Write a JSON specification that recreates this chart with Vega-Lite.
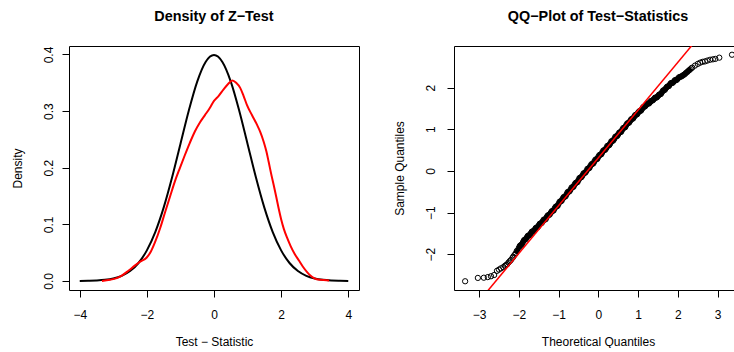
{
  "$schema": "https://vega.github.io/schema/vega-lite/v6.json",
  "padding": {"left": 10, "top": 8, "right": 0, "bottom": 0},
  "background": "white",
  "datasets": {
    "normal": [
      {"x": -4, "density": 0.0001}, {"x": -3.75, "density": 0.0004}, {"x": -3.5, "density": 0.0009}, {"x": -3.25, "density": 0.0020},
      {"x": -3, "density": 0.0044}, {"x": -2.75, "density": 0.0091}, {"x": -2.5, "density": 0.0175}, {"x": -2.25, "density": 0.0317},
      {"x": -2, "density": 0.0540}, {"x": -1.75, "density": 0.0863}, {"x": -1.5, "density": 0.1295}, {"x": -1.25, "density": 0.1826},
      {"x": -1, "density": 0.2420}, {"x": -0.75, "density": 0.3011}, {"x": -0.5, "density": 0.3521}, {"x": -0.25, "density": 0.3867},
      {"x": 0, "density": 0.3989}, {"x": 0.25, "density": 0.3867}, {"x": 0.5, "density": 0.3521}, {"x": 0.75, "density": 0.3011},
      {"x": 1, "density": 0.2420}, {"x": 1.25, "density": 0.1826}, {"x": 1.5, "density": 0.1295}, {"x": 1.75, "density": 0.0863},
      {"x": 2, "density": 0.0540}, {"x": 2.25, "density": 0.0317}, {"x": 2.5, "density": 0.0175}, {"x": 2.75, "density": 0.0091},
      {"x": 3, "density": 0.0044}, {"x": 3.25, "density": 0.0020}, {"x": 3.5, "density": 0.0009}, {"x": 3.75, "density": 0.0004},
      {"x": 4, "density": 0.0001}
    ],
    "empirical": [
      {"x": -3.34, "density": 0.000}, {"x": -3.1, "density": 0.002}, {"x": -2.9, "density": 0.005}, {"x": -2.76, "density": 0.009},
      {"x": -2.55, "density": 0.018}, {"x": -2.36, "density": 0.027}, {"x": -2.2, "density": 0.034}, {"x": -2.01, "density": 0.041},
      {"x": -1.88, "density": 0.052}, {"x": -1.76, "density": 0.068}, {"x": -1.6, "density": 0.094}, {"x": -1.46, "density": 0.121},
      {"x": -1.3, "density": 0.151}, {"x": -1.17, "density": 0.175}, {"x": -1.02, "density": 0.199}, {"x": -0.87, "density": 0.222},
      {"x": -0.72, "density": 0.244}, {"x": -0.57, "density": 0.264}, {"x": -0.42, "density": 0.280}, {"x": -0.27, "density": 0.293},
      {"x": -0.13, "density": 0.305}, {"x": 0.0, "density": 0.318}, {"x": 0.14, "density": 0.327}, {"x": 0.28, "density": 0.338},
      {"x": 0.42, "density": 0.348}, {"x": 0.55, "density": 0.354}, {"x": 0.66, "density": 0.350}, {"x": 0.78, "density": 0.341},
      {"x": 0.88, "density": 0.327}, {"x": 0.98, "density": 0.311}, {"x": 1.13, "density": 0.293}, {"x": 1.28, "density": 0.276},
      {"x": 1.38, "density": 0.263}, {"x": 1.48, "density": 0.246}, {"x": 1.56, "density": 0.229}, {"x": 1.63, "density": 0.210},
      {"x": 1.70, "density": 0.190}, {"x": 1.78, "density": 0.169}, {"x": 1.86, "density": 0.147}, {"x": 1.93, "density": 0.127},
      {"x": 2.0, "density": 0.109}, {"x": 2.08, "density": 0.092}, {"x": 2.18, "density": 0.076}, {"x": 2.28, "density": 0.062},
      {"x": 2.4, "density": 0.048}, {"x": 2.53, "density": 0.036}, {"x": 2.65, "density": 0.025}, {"x": 2.78, "density": 0.015},
      {"x": 2.88, "density": 0.009}, {"x": 2.98, "density": 0.005}, {"x": 3.15, "density": 0.002}, {"x": 3.43, "density": 0.001}
    ],
    "qq": [
      {"theoretical": -3.35, "sample": -2.65}, {"theoretical": -3.03, "sample": -2.57}, {"theoretical": -2.88, "sample": -2.565},
      {"theoretical": -2.78, "sample": -2.55}, {"theoretical": -2.70, "sample": -2.53}, {"theoretical": -2.62, "sample": -2.50},
      {"theoretical": -2.55, "sample": -2.40}, {"theoretical": -2.50, "sample": -2.37}, {"theoretical": -2.45, "sample": -2.34},
      {"theoretical": -2.39, "sample": -2.31}, {"theoretical": -2.32, "sample": -2.26}, {"theoretical": -2.26, "sample": -2.20},
      {"theoretical": -2.20, "sample": -2.14}, {"theoretical": -2.16, "sample": -2.09}, {"theoretical": -2.11, "sample": -2.02},
      {"theoretical": -2.05, "sample": -1.92},
      {"theoretical": -2.00, "sample": -1.85}, {"theoretical": -1.95, "sample": -1.78}, {"theoretical": -1.90, "sample": -1.72},
      {"theoretical": -1.85, "sample": -1.65}, {"theoretical": -1.80, "sample": -1.60}, {"theoretical": -1.75, "sample": -1.55},
      {"theoretical": -1.70, "sample": -1.50}, {"theoretical": -1.65, "sample": -1.45}, {"theoretical": -1.60, "sample": -1.41},
      {"theoretical": -1.55, "sample": -1.36}, {"theoretical": -1.50, "sample": -1.31}, {"theoretical": -1.45, "sample": -1.26},
      {"theoretical": -1.40, "sample": -1.21}, {"theoretical": -1.35, "sample": -1.17}, {"theoretical": -1.30, "sample": -1.11},
      {"theoretical": -1.25, "sample": -1.06}, {"theoretical": -1.20, "sample": -1.01}, {"theoretical": -1.15, "sample": -0.96},
      {"theoretical": -1.10, "sample": -0.90}, {"theoretical": -1.05, "sample": -0.85}, {"theoretical": -1.00, "sample": -0.79},
      {"theoretical": -0.95, "sample": -0.73}, {"theoretical": -0.90, "sample": -0.67}, {"theoretical": -0.85, "sample": -0.62},
      {"theoretical": -0.80, "sample": -0.56}, {"theoretical": -0.75, "sample": -0.50}, {"theoretical": -0.70, "sample": -0.45},
      {"theoretical": -0.65, "sample": -0.39}, {"theoretical": -0.60, "sample": -0.33}, {"theoretical": -0.55, "sample": -0.28},
      {"theoretical": -0.50, "sample": -0.22}, {"theoretical": -0.45, "sample": -0.16}, {"theoretical": -0.40, "sample": -0.11},
      {"theoretical": -0.35, "sample": -0.05}, {"theoretical": -0.30, "sample": 0.00}, {"theoretical": -0.25, "sample": 0.06},
      {"theoretical": -0.20, "sample": 0.12}, {"theoretical": -0.15, "sample": 0.17}, {"theoretical": -0.10, "sample": 0.23},
      {"theoretical": -0.05, "sample": 0.28}, {"theoretical": 0.00, "sample": 0.34}, {"theoretical": 0.05, "sample": 0.39},
      {"theoretical": 0.10, "sample": 0.45}, {"theoretical": 0.15, "sample": 0.50}, {"theoretical": 0.20, "sample": 0.55},
      {"theoretical": 0.25, "sample": 0.61}, {"theoretical": 0.30, "sample": 0.66}, {"theoretical": 0.35, "sample": 0.72},
      {"theoretical": 0.40, "sample": 0.77}, {"theoretical": 0.45, "sample": 0.83}, {"theoretical": 0.50, "sample": 0.88},
      {"theoretical": 0.55, "sample": 0.93}, {"theoretical": 0.60, "sample": 0.99}, {"theoretical": 0.65, "sample": 1.04},
      {"theoretical": 0.70, "sample": 1.10}, {"theoretical": 0.75, "sample": 1.15}, {"theoretical": 0.80, "sample": 1.20},
      {"theoretical": 0.85, "sample": 1.25}, {"theoretical": 0.90, "sample": 1.30}, {"theoretical": 0.95, "sample": 1.35},
      {"theoretical": 1.00, "sample": 1.40}, {"theoretical": 1.05, "sample": 1.44}, {"theoretical": 1.10, "sample": 1.49},
      {"theoretical": 1.15, "sample": 1.54}, {"theoretical": 1.20, "sample": 1.58}, {"theoretical": 1.25, "sample": 1.62},
      {"theoretical": 1.30, "sample": 1.65}, {"theoretical": 1.35, "sample": 1.69}, {"theoretical": 1.40, "sample": 1.73},
      {"theoretical": 1.45, "sample": 1.76}, {"theoretical": 1.50, "sample": 1.80}, {"theoretical": 1.55, "sample": 1.84},
      {"theoretical": 1.60, "sample": 1.89}, {"theoretical": 1.65, "sample": 1.94}, {"theoretical": 1.70, "sample": 1.99},
      {"theoretical": 1.75, "sample": 2.03}, {"theoretical": 1.80, "sample": 2.08}, {"theoretical": 1.85, "sample": 2.11},
      {"theoretical": 1.90, "sample": 2.15}, {"theoretical": 1.95, "sample": 2.18}, {"theoretical": 2.00, "sample": 2.22},
      {"theoretical": 2.06, "sample": 2.26}, {"theoretical": 2.12, "sample": 2.29}, {"theoretical": 2.18, "sample": 2.33},
      {"theoretical": 2.24, "sample": 2.38}, {"theoretical": 2.30, "sample": 2.43}, {"theoretical": 2.36, "sample": 2.48},
      {"theoretical": 2.43, "sample": 2.53}, {"theoretical": 2.50, "sample": 2.57}, {"theoretical": 2.56, "sample": 2.60},
      {"theoretical": 2.62, "sample": 2.62}, {"theoretical": 2.68, "sample": 2.63}, {"theoretical": 2.74, "sample": 2.65},
      {"theoretical": 2.81, "sample": 2.67}, {"theoretical": 2.88, "sample": 2.68}, {"theoretical": 2.94, "sample": 2.69},
      {"theoretical": 3.04, "sample": 2.72}, {"theoretical": 3.36, "sample": 2.79},
      {"theoretical": -1.975, "sample": -1.80}, {"theoretical": -1.925, "sample": -1.77}, {"theoretical": -1.875, "sample": -1.67},
      {"theoretical": -1.825, "sample": -1.64}, {"theoretical": -1.775, "sample": -1.56}, {"theoretical": -1.725, "sample": -1.54},
      {"theoretical": -1.675, "sample": -1.46}, {"theoretical": -1.625, "sample": -1.45}, {"theoretical": -1.575, "sample": -1.37},
      {"theoretical": -1.525, "sample": -1.35}, {"theoretical": -1.475, "sample": -1.27}, {"theoretical": -1.425, "sample": -1.25},
      {"theoretical": -1.375, "sample": -1.17}, {"theoretical": -1.325, "sample": -1.16}, {"theoretical": -1.275, "sample": -1.07},
      {"theoretical": -1.225, "sample": -1.05}, {"theoretical": -1.175, "sample": -0.97}, {"theoretical": -1.125, "sample": -0.95},
      {"theoretical": -1.075, "sample": -0.86}, {"theoretical": -1.025, "sample": -0.84}, {"theoretical": -0.975, "sample": -0.74},
      {"theoretical": -0.925, "sample": -0.72}, {"theoretical": -0.875, "sample": -0.63}, {"theoretical": -0.825, "sample": -0.61},
      {"theoretical": -0.775, "sample": -0.51}, {"theoretical": -0.725, "sample": -0.49}, {"theoretical": -0.675, "sample": -0.40},
      {"theoretical": -0.625, "sample": -0.38}, {"theoretical": -0.575, "sample": -0.29}, {"theoretical": -0.525, "sample": -0.27},
      {"theoretical": -0.475, "sample": -0.17}, {"theoretical": -0.425, "sample": -0.15}, {"theoretical": -0.375, "sample": -0.06},
      {"theoretical": -0.325, "sample": -0.04}, {"theoretical": -0.275, "sample": 0.05}, {"theoretical": -0.225, "sample": 0.07},
      {"theoretical": -0.175, "sample": 0.16}, {"theoretical": -0.125, "sample": 0.18}, {"theoretical": -0.075, "sample": 0.27},
      {"theoretical": -0.025, "sample": 0.29}, {"theoretical": 0.025, "sample": 0.38}, {"theoretical": 0.075, "sample": 0.40},
      {"theoretical": 0.125, "sample": 0.49}, {"theoretical": 0.175, "sample": 0.51}, {"theoretical": 0.225, "sample": 0.60},
      {"theoretical": 0.275, "sample": 0.62}, {"theoretical": 0.325, "sample": 0.71}, {"theoretical": 0.375, "sample": 0.73},
      {"theoretical": 0.425, "sample": 0.82}, {"theoretical": 0.475, "sample": 0.84}, {"theoretical": 0.525, "sample": 0.92},
      {"theoretical": 0.575, "sample": 0.94}, {"theoretical": 0.625, "sample": 1.03}, {"theoretical": 0.675, "sample": 1.05},
      {"theoretical": 0.725, "sample": 1.14}, {"theoretical": 0.775, "sample": 1.16}, {"theoretical": 0.825, "sample": 1.24},
      {"theoretical": 0.875, "sample": 1.26}, {"theoretical": 0.925, "sample": 1.34}, {"theoretical": 0.975, "sample": 1.36},
      {"theoretical": 1.025, "sample": 1.43}, {"theoretical": 1.075, "sample": 1.45}, {"theoretical": 1.125, "sample": 1.53},
      {"theoretical": 1.175, "sample": 1.55}, {"theoretical": 1.225, "sample": 1.61}, {"theoretical": 1.275, "sample": 1.62},
      {"theoretical": 1.325, "sample": 1.68}, {"theoretical": 1.375, "sample": 1.70}, {"theoretical": 1.425, "sample": 1.76},
      {"theoretical": 1.475, "sample": 1.77}, {"theoretical": 1.525, "sample": 1.83}, {"theoretical": 1.575, "sample": 1.85},
      {"theoretical": 1.625, "sample": 1.93}, {"theoretical": 1.675, "sample": 1.95}, {"theoretical": 1.725, "sample": 2.02},
      {"theoretical": 1.775, "sample": 2.04}, {"theoretical": 1.825, "sample": 2.11}, {"theoretical": 1.875, "sample": 2.12},
      {"theoretical": 1.925, "sample": 2.18}, {"theoretical": 1.975, "sample": 2.19},
      {"theoretical": 2.03, "sample": 2.25}, {"theoretical": 2.09, "sample": 2.27}, {"theoretical": 2.15, "sample": 2.31},
      {"theoretical": 2.21, "sample": 2.36}, {"theoretical": 2.27, "sample": 2.41}, {"theoretical": 2.33, "sample": 2.46},
      {"theoretical": -2.08, "sample": -1.98}, {"theoretical": -2.14, "sample": -2.06}, {"theoretical": -2.23, "sample": -2.17},
      {"theoretical": -2.29, "sample": -2.24}, {"theoretical": -2.35, "sample": -2.28}
    ],
    "qqline": [
      {"theoretical": -3.63, "sample": -3.853},
      {"theoretical": 3.41, "sample": 4.229}
    ]
  },
  "hconcat": [
    {
      "width": 290,
      "height": 244,
      "title": "Density of Z−Test",
      "layer": [
        {
          "data": {"name": "normal"},
          "mark": {"type": "line", "color": "black", "strokeWidth": 2, "interpolate": "monotone"},
          "encoding": {
            "x": {"field": "x", "type": "quantitative", "scale": {"domain": [-4.32, 4.32], "nice": false, "zero": false},
                  "axis": {"values": [-4, -2, 0, 2, 4], "title": "Test − Statistic"}},
            "y": {"field": "density", "type": "quantitative", "scale": {"domain": [-0.016, 0.415], "nice": false, "zero": false},
                  "axis": {"values": [0, 0.1, 0.2, 0.3, 0.4], "format": ".1f", "title": "Density"}}
          }
        },
        {
          "data": {"name": "empirical"},
          "mark": {"type": "line", "color": "#FF0000", "strokeWidth": 2, "interpolate": "monotone"},
          "encoding": {
            "x": {"field": "x", "type": "quantitative"},
            "y": {"field": "density", "type": "quantitative"}
          }
        }
      ]
    },
    {
      "width": 280,
      "height": 244,
      "title": {"text": "QQ−Plot of Test−Statistics", "dx": 4},
      "layer": [
        {
          "data": {"name": "qq"},
          "transform": [{"filter": "datum.theoretical > -2.1 && datum.theoretical < 2.34"}],
          "mark": {"type": "line", "color": "black", "strokeWidth": 4.5, "clip": true},
          "encoding": {
            "x": {"field": "theoretical", "type": "quantitative", "scale": {"domain": [-3.63, 3.41], "nice": false, "zero": false},
                  "axis": {"values": [-3, -2, -1, 0, 1, 2, 3], "title": "Theoretical Quantiles", "titleX": 144}},
            "y": {"field": "sample", "type": "quantitative", "scale": {"domain": [-2.86, 3.0], "nice": false, "zero": false},
                  "axis": {"values": [-2, -1, 0, 1, 2], "title": "Sample Quantiles", "labelPadding": 13}},
            "order": {"field": "theoretical", "type": "quantitative"}
          }
        },
        {
          "data": {"name": "qq"},
          "mark": {"type": "point", "shape": "circle", "filled": false, "color": "black", "strokeWidth": 1, "size": 28, "opacity": 1, "clip": true},
          "encoding": {
            "x": {"field": "theoretical", "type": "quantitative"},
            "y": {"field": "sample", "type": "quantitative"}
          }
        },
        {
          "data": {"name": "qqline"},
          "mark": {"type": "line", "color": "#FF0000", "strokeWidth": 1.5, "clip": true},
          "encoding": {
            "x": {"field": "theoretical", "type": "quantitative"},
            "y": {"field": "sample", "type": "quantitative"}
          }
        }
      ]
    }
  ],
  "spacing": 95,
  "bounds": "flush",
  "config": {
    "font": "Liberation Sans",
    "view": {"stroke": "black", "strokeWidth": 1},
    "axis": {
      "domain": false, "grid": false, "tickColor": "black", "tickSize": 7, "tickWidth": 1,
      "labelFont": "Liberation Sans", "labelFontSize": 12, "labelColor": "black", "labelFlush": false, "labelOverlap": false,
      "titleFont": "Liberation Sans", "titleFontSize": 12, "titleFontWeight": "normal", "titleColor": "black"
    },
    "axisX": {"labelPadding": 12, "titlePadding": 16},
    "axisY": {"labelAngle": -90, "labelAlign": "center", "labelBaseline": "alphabetic", "labelPadding": 10, "titlePadding": 18},
    "title": {"font": "Liberation Sans", "fontSize": 14.4, "fontWeight": "bold", "color": "black", "offset": 22}
  }
}
